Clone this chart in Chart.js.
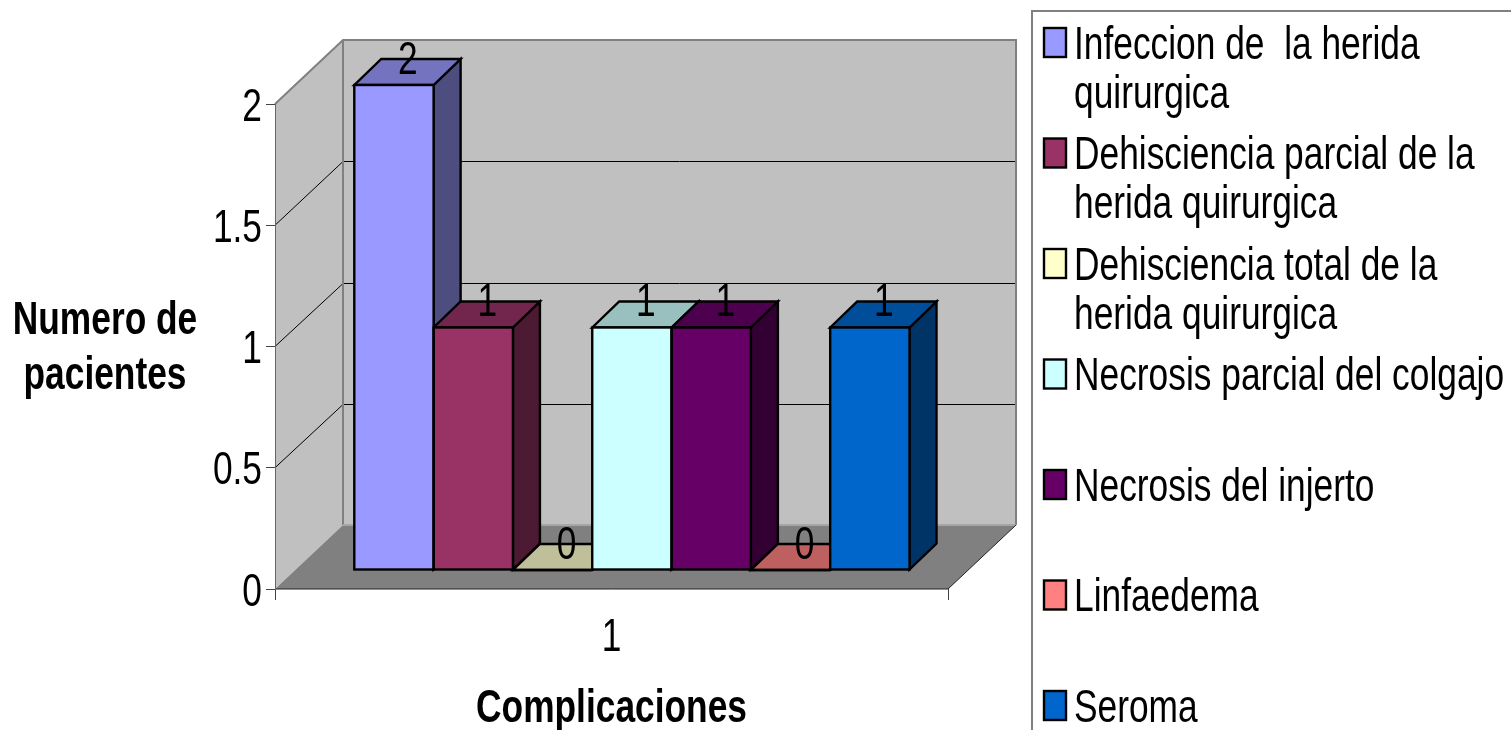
<!DOCTYPE html>
<html>
<head>
<meta charset="utf-8">
<title>Complicaciones</title>
<script src="https://cdn.jsdelivr.net/npm/chart.js@4"></script>
<style>
    html, body { margin: 0; padding: 0; background: #fff; overflow: hidden; }
    canvas { display: block; }
</style>
</head>
<body>
<canvas id="complicaciones" width="1511" height="730"></canvas>
<script>
var categories = ['1'];
var seriesNames = [
    'Infeccion de  la herida quirurgica',
    'Dehiscencia parcial de la herida quirurgica',
    'Dehiscencia total de la herida quirurgica',
    'Necrosis parcial del colgajo',
    'Necrosis del injerto',
    'Linfaedema',
    'Seroma'
];
var seriesValues = [2, 1, 0, 1, 1, 0, 1];
var yTicks = [0, 0.5, 1, 1.5, 2];
var legendLines = [
    ['Infeccion de  la herida', 'quirurgica'],
    ['Dehisciencia parcial de la', 'herida quirurgica'],
    ['Dehisciencia total de la', 'herida quirurgica'],
    ['Necrosis parcial del colgajo'],
    ['Necrosis del injerto'],
    ['Linfaedema'],
    ['Seroma']
];
var seriesColors = ['#9999ff', '#993366', '#ffffcc', '#ccffff', '#660066', '#ff8080', '#0066cc'];

var fontFamily = '"Liberation Sans", Arial, sans-serif';
var fontSize = 46;
var textFont = fontSize + 'px ' + fontFamily;
var boldFont = 'bold ' + fontSize + 'px ' + fontFamily;

// depth of the box, and of the columns standing in the middle of it
var wallDepth = { x: 68, y: -64 };
var barOffset = { x: 20.4, y: -19 };
var barDepth = { x: 27, y: -26 };

var canvas = document.getElementById('complicaciones');

// all text on this chart is condensed sideways and sits a little lower
var textSqueeze = 0.768;
var textDrop = 4;
var ctx2d = canvas.getContext('2d');
var plainFillText = ctx2d.fillText;
ctx2d.fillText = function (text, x, y) {
    this.save();
    this.translate(x, y + textDrop);
    this.scale(textSqueeze, 1);
    plainFillText.call(this, text, 0, 0);
    this.restore();
};

function shade(hex, k) {
    var n = parseInt(hex.slice(1), 16);
    var r = Math.round((n >> 16 & 255) * k);
    var g = Math.round((n >> 8 & 255) * k);
    var b = Math.round((n & 255) * k);
    return 'rgb(' + r + ',' + g + ',' + b + ')';
}

function poly(ctx, pts, fill, stroke, width) {
    ctx.beginPath();
    pts.forEach(function (p, i) {
        if (i === 0) ctx.moveTo(p[0], p[1]);
        else ctx.lineTo(p[0], p[1]);
    });
    if (fill) {
        ctx.closePath();
        ctx.fillStyle = fill;
        ctx.fill();
    }
    if (stroke) {
        ctx.strokeStyle = stroke;
        ctx.lineWidth = width;
        ctx.stroke();
    }
}

// back wall, side wall, floor and their gridlines
var boxPlugin = {
    id: 'box',
    beforeDraw: function (chart) {
        var ctx = chart.ctx;
        var a = chart.chartArea;
        var y = chart.scales.y;
        var dx = wallDepth.x;
        var dy = wallDepth.y;
        ctx.save();
        poly(ctx, [[a.left + dx, a.top + dy], [a.right + dx, a.top + dy], [a.right + dx, a.bottom + dy], [a.left + dx, a.bottom + dy]], '#c0c0c0');
        poly(ctx, [[a.left, a.top], [a.left + dx, a.top + dy], [a.left + dx, a.bottom + dy], [a.left, a.bottom]], '#c0c0c0');
        poly(ctx, [[a.left, a.bottom], [a.right, a.bottom], [a.right + dx, a.bottom + dy], [a.left + dx, a.bottom + dy]], '#808080');
        yTicks.forEach(function (t) {
            if (t === 0 || t === 2) return;
            var py = y.getPixelForValue(t);
            var backY = Math.round(py + dy) + 0.5;
            poly(ctx, [[a.left, py], [a.left + dx, backY], [a.right + dx, backY]], null, '#000', 1);
        });
        poly(ctx, [[a.left, a.top], [a.left + dx, a.top + dy], [a.right + dx, a.top + dy], [a.right + dx, a.bottom + dy]], null, '#808080', 2);
        poly(ctx, [[a.left + dx, a.top + dy], [a.left + dx, a.bottom + dy]], null, '#808080', 2);
        poly(ctx, [[a.left + dx, a.bottom + dy], [a.right + dx, a.bottom + dy]], null, '#a6a6a6', 2);
        poly(ctx, [[a.left, a.bottom], [a.right, a.bottom], [a.right + dx, a.bottom + dy]], null, '#222', 1);
        ctx.restore();
    }
};

// columns get their top and side faces, and are moved back into the box
var columnPlugin = {
    id: 'columns',
    beforeDatasetsDraw: function (chart) {
        var ctx = chart.ctx;
        ctx.save();
        ctx.translate(barOffset.x, barOffset.y);
        chart.data.datasets.forEach(function (ds, i) {
            var bar = chart.getDatasetMeta(i).data[0];
            var l = bar.x - bar.width / 2;
            var r = bar.x + bar.width / 2;
            var t = bar.y;
            var b = bar.base;
            var dx = barDepth.x;
            var dy = barDepth.y;
            poly(ctx, [[r, t], [r + dx, t + dy], [r + dx, b + dy], [r, b], [r, t]], shade(seriesColors[i], 0.5), '#000', 2.4);
            poly(ctx, [[l, t], [l + dx, t + dy], [r + dx, t + dy], [r, t], [l, t]], shade(seriesColors[i], 0.75), '#000', 2.4);
        });
    },
    afterDatasetsDraw: function (chart) {
        var ctx = chart.ctx;
        chart.data.datasets.forEach(function (ds, i) {
            var bar = chart.getDatasetMeta(i).data[0];
            ctx.strokeStyle = '#000';
            ctx.lineWidth = 2.4;
            ctx.strokeRect(bar.x - bar.width / 2, bar.y, bar.width, bar.base - bar.y);
        });
        ctx.fillStyle = '#000';
        ctx.font = textFont;
        ctx.textAlign = 'center';
        ctx.textBaseline = 'middle';
        chart.data.datasets.forEach(function (ds, i) {
            var bar = chart.getDatasetMeta(i).data[0];
            ctx.fillText(String(ds.data[0]), bar.x + 14, bar.y - 28);
        });
        ctx.restore();
    }
};

// legend frame with its swatches, and the horizontal y title
var legendPlugin = {
    id: 'sideText',
    afterDraw: function (chart) {
        var ctx = chart.ctx;
        ctx.save();
        poly(ctx, [[1032, 731], [1032, 11], [1512, 11]], null, '#808080', 2);
        ctx.textAlign = 'left';
        ctx.textBaseline = 'middle';
        ctx.font = textFont;
        legendLines.forEach(function (lines, i) {
            var top = 28 + i * 110.5;
            ctx.fillStyle = seriesColors[i];
            ctx.fillRect(1044, top, 22, 29);
            ctx.strokeStyle = '#000';
            ctx.lineWidth = 2.4;
            ctx.strokeRect(1044, top, 22, 29);
            ctx.fillStyle = '#000';
            lines.forEach(function (line, j) {
                ctx.fillText(line, 1074, top + 14 + j * 49);
            });
        });
        ctx.font = boldFont;
        ctx.textAlign = 'center';
        ctx.fillText('Numero de', 105, 317);
        ctx.fillText('pacientes', 105, 372);
        ctx.restore();
    }
};

var chartData = {
    labels: categories,
    datasets: seriesNames.map(function (name, i) {
        return {
            label: name,
            data: [seriesValues[i]],
            backgroundColor: seriesColors[i],
            borderWidth: 0,
            clip: false
        };
    })
};

var myChart = new Chart(canvas, {
    type: 'bar',
    data: chartData,
    plugins: [boxPlugin, columnPlugin, legendPlugin],
    options: {
        responsive: false,
        animation: false,
        categoryPercentage: 0.825,
        barPercentage: 1,
        layout: { padding: { top: 104, right: 563, left: 0, bottom: 0 } },
        plugins: {
            legend: { display: false },
            tooltip: { enabled: false }
        },
        scales: {
            x: {
                afterFit: function (scale) { scale.height = 141; },
                grid: { drawOnChartArea: false, tickLength: 11, color: '#444' },
                border: { display: false },
                ticks: { color: '#000', font: { family: fontFamily, size: fontSize }, padding: 7, maxRotation: 0 },
                title: {
                    display: true,
                    text: 'Complicaciones',
                    color: '#000',
                    font: { family: fontFamily, size: fontSize, weight: 'bold', lineHeight: 1.06 },
                    padding: { top: 0, bottom: 0 }
                }
            },
            y: {
                min: 0,
                max: 2,
                afterFit: function (scale) { scale.width = 275; },
                afterBuildTicks: function (scale) {
                    scale.ticks = yTicks.map(function (v) { return { value: v }; });
                },
                grid: { drawOnChartArea: false, tickLength: 9, color: '#444' },
                border: { display: true, color: '#666', width: 1 },
                ticks: {
                    color: '#000',
                    font: { family: fontFamily, size: fontSize },
                    padding: 4,
                    callback: function (v) { return String(v); }
                }
            }
        }
    }
});
</script>
</body>
</html>
